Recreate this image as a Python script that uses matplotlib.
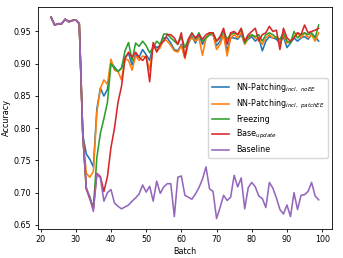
import numpy as np
import matplotlib
matplotlib.use('Agg')
import matplotlib.pyplot as plt

batches = np.arange(23, 100)

# shared start (all models identical before the drift)
start = [0.972, 0.960, 0.962, 0.962, 0.969, 0.965, 0.967, 0.968, 0.962, 0.790]

patch_noee = start + [
    0.760, 0.752, 0.740, 0.830, 0.862, 0.850, 0.860, 0.902, 0.895, 0.888,
    0.893, 0.910, 0.916, 0.898, 0.914, 0.910, 0.922, 0.914, 0.905, 0.930,
    0.925, 0.928, 0.940, 0.940, 0.932, 0.922, 0.920, 0.930, 0.910, 0.932,
    0.942, 0.932, 0.945, 0.930, 0.940, 0.945, 0.945, 0.928, 0.935, 0.945,
    0.920, 0.940, 0.940, 0.938, 0.945, 0.932, 0.938, 0.942, 0.935, 0.940,
    0.920, 0.935, 0.942, 0.940, 0.938, 0.932, 0.942, 0.925, 0.932, 0.940,
    0.935, 0.940, 0.942, 0.938, 0.945, 0.942, 0.935]

patch_ee = start + [
    0.730, 0.724, 0.733, 0.825, 0.862, 0.875, 0.868, 0.907, 0.890, 0.888,
    0.875, 0.908, 0.905, 0.890, 0.912, 0.905, 0.912, 0.910, 0.890, 0.928,
    0.920, 0.925, 0.938, 0.935, 0.928, 0.920, 0.918, 0.928, 0.908, 0.935,
    0.940, 0.935, 0.940, 0.913, 0.940, 0.948, 0.945, 0.922, 0.930, 0.945,
    0.912, 0.940, 0.945, 0.940, 0.948, 0.930, 0.940, 0.945, 0.940, 0.938,
    0.930, 0.940, 0.945, 0.940, 0.942, 0.935, 0.945, 0.932, 0.935, 0.942,
    0.948, 0.940, 0.948, 0.940, 0.945, 0.935, 0.948]

freezing = start + [
    0.706, 0.694, 0.676, 0.755, 0.792, 0.815, 0.840, 0.900, 0.893, 0.888,
    0.893, 0.920, 0.933, 0.905, 0.932, 0.927, 0.935, 0.928, 0.917, 0.925,
    0.935, 0.930, 0.946, 0.946, 0.940, 0.935, 0.930, 0.942, 0.925, 0.938,
    0.948, 0.938, 0.948, 0.935, 0.940, 0.945, 0.948, 0.935, 0.940, 0.950,
    0.938, 0.945, 0.948, 0.945, 0.953, 0.932, 0.942, 0.945, 0.942, 0.945,
    0.935, 0.945, 0.948, 0.945, 0.940, 0.938, 0.948, 0.935, 0.932, 0.950,
    0.940, 0.945, 0.948, 0.945, 0.948, 0.940, 0.960]

base_update = start + [
    0.706, 0.690, 0.675, 0.730, 0.725, 0.702, 0.725, 0.770, 0.800, 0.840,
    0.865, 0.908, 0.918, 0.910, 0.918, 0.910, 0.905, 0.912, 0.872, 0.933,
    0.918, 0.930, 0.935, 0.945, 0.945, 0.940, 0.930, 0.948, 0.910, 0.938,
    0.947, 0.940, 0.945, 0.938, 0.945, 0.948, 0.948, 0.935, 0.942, 0.955,
    0.930, 0.948, 0.950, 0.945, 0.955, 0.935, 0.945, 0.950, 0.955, 0.935,
    0.945, 0.948, 0.958, 0.950, 0.952, 0.922, 0.955, 0.940, 0.935, 0.940,
    0.948, 0.945, 0.960, 0.948, 0.950, 0.952, 0.955]

baseline = start + [
    0.708, 0.692, 0.671, 0.729, 0.723, 0.687, 0.700, 0.705, 0.684, 0.679,
    0.675, 0.678, 0.681, 0.687, 0.692, 0.698, 0.712, 0.701, 0.710, 0.687,
    0.718, 0.699, 0.709, 0.714, 0.714, 0.663, 0.724, 0.726, 0.696, 0.693,
    0.690, 0.698, 0.708, 0.721, 0.740, 0.706, 0.702, 0.660, 0.677, 0.696,
    0.688, 0.693, 0.727, 0.709, 0.723, 0.675, 0.708, 0.716, 0.709, 0.695,
    0.691, 0.677, 0.716, 0.707, 0.692, 0.674, 0.667, 0.681, 0.663, 0.700,
    0.674, 0.696, 0.697, 0.702, 0.716, 0.695, 0.689]

labels = [r'NN-Patching$_{incl,\ noEE}$', r'NN-Patching$_{incl,\ patchEE}$',
          'Freezing', r'Base$_{update}$', 'Baseline']

plt.rcParams['font.size'] = 5.8

fig = plt.figure(figsize=(3.43, 2.58), dpi=100)
ax = fig.add_axes([0.11, 0.114, 0.858, 0.858])

for series, lab in zip([patch_noee, patch_ee, freezing, base_update, baseline], labels):
    ax.plot(batches, series, lw=1.15, label=lab)

ax.set_xlabel('Batch', labelpad=2)
ax.set_ylabel('Accuracy', labelpad=2)
ax.set_xticks(np.arange(20, 101, 10))
ax.set_yticks([0.65, 0.70, 0.75, 0.80, 0.85, 0.90, 0.95])
ax.tick_params(length=2.5, width=0.6, pad=2)
for s in ax.spines.values():
    s.set_linewidth(0.6)
ax.legend(loc='center right', handlelength=2.2)

fig.savefig('out.png', dpi=100)
